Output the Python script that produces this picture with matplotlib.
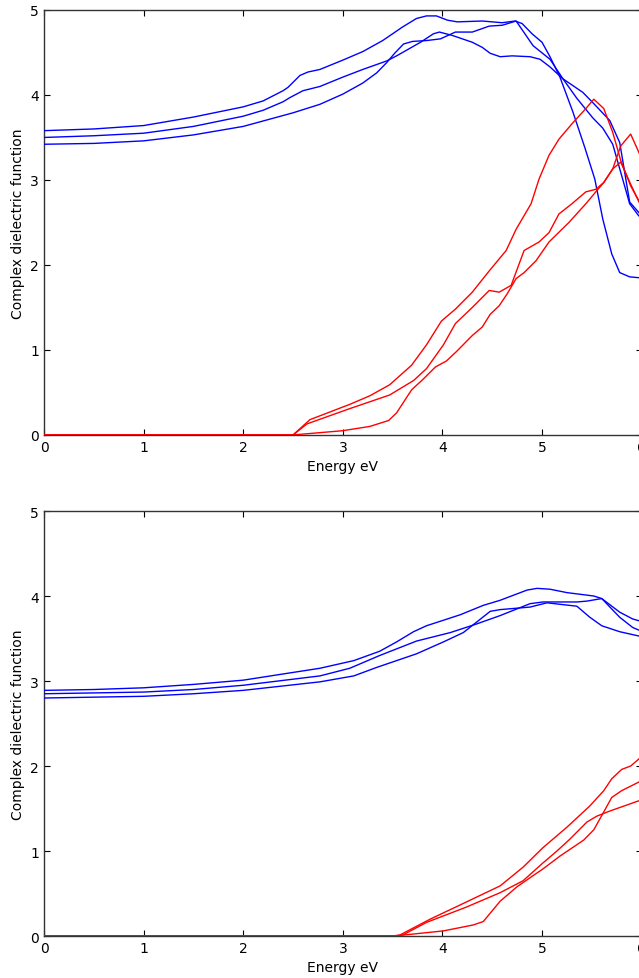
import matplotlib
matplotlib.use("Agg")
import matplotlib.pyplot as plt

# --- upper panel: real (blue) and imaginary (red) parts, three components ---
up_re1_e = [0, 0.5, 1.0, 1.5, 2.0, 2.2, 2.4, 2.45, 2.57, 2.65, 2.77, 3.0, 3.2, 3.4, 3.6, 3.74,
            3.84, 3.94, 4.05, 4.15, 4.4, 4.6, 4.73, 4.80, 4.90, 5.0, 5.08, 5.18, 5.31, 5.43,
            5.53, 5.61, 5.70, 5.78, 5.88, 5.97, 6.0]
up_re1_v = [3.58, 3.60, 3.64, 3.74, 3.86, 3.93, 4.05, 4.09, 4.23, 4.27, 4.30, 4.41, 4.51, 4.64,
            4.80, 4.90, 4.93, 4.93, 4.88, 4.86, 4.87, 4.85, 4.87, 4.84, 4.72, 4.62, 4.45, 4.21,
            3.80, 3.38, 3.01, 2.54, 2.13, 1.91, 1.86, 1.85, 1.86]

up_re2_e = [0, 0.5, 1.0, 1.5, 2.0, 2.2, 2.4, 2.47, 2.6, 2.77, 3.0, 3.2, 3.44, 3.54, 3.78, 3.91,
            3.97, 4.10, 4.30, 4.40, 4.48, 4.58, 4.70, 4.88, 4.98, 5.08, 5.21, 5.41, 5.51, 5.68,
            5.78, 5.88, 5.97, 6.0]
up_re2_v = [3.50, 3.52, 3.55, 3.63, 3.75, 3.82, 3.92, 3.97, 4.05, 4.10, 4.21, 4.30, 4.40, 4.46,
            4.62, 4.72, 4.74, 4.70, 4.62, 4.56, 4.49, 4.45, 4.46, 4.45, 4.42, 4.33, 4.19, 4.03,
            3.91, 3.70, 3.44, 2.74, 2.62, 2.58]

up_re3_e = [0, 0.5, 1.0, 1.5, 2.0, 2.5, 2.77, 3.0, 3.2, 3.34, 3.44, 3.52, 3.61, 3.70, 3.84,
            3.98, 4.13, 4.30, 4.47, 4.60, 4.74, 4.91, 5.08, 5.21, 5.35, 5.51, 5.61, 5.71, 5.88,
            5.97, 6.0]
up_re3_v = [3.42, 3.43, 3.46, 3.53, 3.63, 3.79, 3.89, 4.01, 4.14, 4.26, 4.38, 4.49, 4.60, 4.63,
            4.64, 4.66, 4.74, 4.74, 4.81, 4.82, 4.87, 4.58, 4.42, 4.19, 3.96, 3.73, 3.61, 3.42,
            2.72, 2.58, 2.55]

up_im1_e = [0, 2.5, 2.67, 3.07, 3.27, 3.47, 3.69, 3.84, 3.99, 4.13, 4.30, 4.47, 4.64, 4.74,
            4.89, 4.97, 5.07, 5.17, 5.30, 5.44, 5.52, 5.62, 5.71, 5.79, 5.89, 5.97, 6.0]
up_im1_v = [0, 0, 0.18, 0.36, 0.46, 0.59, 0.82, 1.06, 1.34, 1.48, 1.68, 1.93, 2.17, 2.42, 2.72,
            3.01, 3.29, 3.48, 3.66, 3.84, 3.95, 3.84, 3.56, 3.23, 2.93, 2.76, 2.70]

up_im2_e = [0, 2.5, 2.64, 3.07, 3.47, 3.71, 3.84, 4.01, 4.13, 4.30, 4.47, 4.57, 4.69, 4.82,
            4.97, 5.07, 5.17, 5.30, 5.44, 5.54, 5.62, 5.71, 5.79, 5.89, 5.97, 6.0]
up_im2_v = [0, 0, 0.13, 0.31, 0.47, 0.64, 0.78, 1.06, 1.31, 1.50, 1.70, 1.68, 1.76, 2.17, 2.27,
            2.38, 2.60, 2.72, 2.86, 2.89, 2.97, 3.13, 3.21, 2.95, 2.75, 2.68]

up_im3_e = [0, 2.5, 3.0, 3.27, 3.46, 3.54, 3.69, 3.81, 3.93, 4.04, 4.14, 4.30, 4.40, 4.48,
            4.57, 4.65, 4.74, 4.82, 4.94, 5.07, 5.27, 5.44, 5.54, 5.62, 5.71, 5.79, 5.89, 5.97,
            6.0]
up_im3_v = [0, 0, 0.05, 0.10, 0.17, 0.26, 0.53, 0.66, 0.80, 0.87, 0.98, 1.17, 1.27, 1.42, 1.52,
            1.66, 1.84, 1.91, 2.05, 2.27, 2.50, 2.72, 2.86, 2.97, 3.13, 3.40, 3.54, 3.33, 3.25]

# --- lower panel ---
lo_re1_e = [0, 0.5, 1.0, 1.5, 2.0, 2.77, 3.11, 3.37, 3.54, 3.71, 3.84, 4.18, 4.41, 4.58, 4.85,
            4.95, 5.08, 5.25, 5.52, 5.60, 5.78, 5.91, 5.97, 6.0]
lo_re1_v = [2.89, 2.90, 2.92, 2.96, 3.01, 3.15, 3.24, 3.35, 3.46, 3.58, 3.65, 3.78, 3.89, 3.95,
            4.07, 4.09, 4.08, 4.04, 4.00, 3.97, 3.81, 3.73, 3.71, 3.70]

lo_re2_e = [0, 0.5, 1.0, 1.5, 2.0, 2.77, 3.07, 3.37, 3.74, 4.08, 4.34, 4.58, 4.88, 5.01, 5.14,
            5.35, 5.45, 5.60, 5.78, 5.91, 5.97, 6.0]
lo_re2_v = [2.85, 2.86, 2.87, 2.90, 2.95, 3.06, 3.15, 3.30, 3.47, 3.57, 3.67, 3.77, 3.91, 3.93,
            3.93, 3.93, 3.94, 3.97, 3.75, 3.63, 3.60, 3.59]

lo_re3_e = [0, 0.5, 1.0, 1.5, 2.0, 2.77, 3.11, 3.34, 3.74, 4.01, 4.21, 4.34, 4.48, 4.58, 4.88,
            5.05, 5.35, 5.48, 5.60, 5.78, 5.97, 6.0]
lo_re3_v = [2.80, 2.81, 2.82, 2.85, 2.89, 2.99, 3.06, 3.16, 3.32, 3.46, 3.57, 3.69, 3.82, 3.84,
            3.87, 3.92, 3.88, 3.75, 3.65, 3.58, 3.53, 3.52]

lo_im1_e = [0, 3.5, 3.57, 3.88, 4.24, 4.58, 4.81, 5.01, 5.25, 5.48, 5.62, 5.70, 5.80, 5.89,
            5.97, 6.0]
lo_im1_v = [0, 0, 0.01, 0.20, 0.40, 0.59, 0.81, 1.04, 1.28, 1.53, 1.71, 1.85, 1.96, 2.00, 2.08,
            2.12]

lo_im2_e = [0, 3.5, 3.6, 3.84, 4.24, 4.58, 4.81, 5.0, 5.15, 5.28, 5.45, 5.55, 5.68, 5.97, 6.0]
lo_im2_v = [0, 0, 0.01, 0.16, 0.34, 0.51, 0.65, 0.85, 1.00, 1.14, 1.34, 1.41, 1.47, 1.59, 1.60]

lo_im3_e = [0, 3.5, 3.6, 4.01, 4.31, 4.41, 4.58, 4.75, 4.91, 5.01, 5.18, 5.42, 5.52, 5.62,
            5.70, 5.80, 5.97, 6.0]
lo_im3_v = [0, 0, 0.01, 0.06, 0.13, 0.17, 0.41, 0.58, 0.71, 0.79, 0.94, 1.13, 1.25, 1.46, 1.63,
            1.71, 1.81, 1.83]

x_ticks = [0, 1, 2, 3, 4, 5, 6]
y_ticks = [0, 1, 2, 3, 4, 5]

plt.rcParams['font.family'] = 'DejaVu Sans'
plt.rcParams['font.size'] = 10

fig = plt.figure(figsize=(6.39, 9.79), dpi=100)
ax_top = fig.add_axes([0.0689, 0.5547, 0.9352, 0.4341])
ax_bot = fig.add_axes([0.0689, 0.0429, 0.9352, 0.4341])

panels = [
    (ax_top, [(up_re1_e, up_re1_v), (up_re2_e, up_re2_v), (up_re3_e, up_re3_v)],
             [(up_im1_e, up_im1_v), (up_im2_e, up_im2_v), (up_im3_e, up_im3_v)]),
    (ax_bot, [(lo_re1_e, lo_re1_v), (lo_re2_e, lo_re2_v), (lo_re3_e, lo_re3_v)],
             [(lo_im1_e, lo_im1_v), (lo_im2_e, lo_im2_v), (lo_im3_e, lo_im3_v)]),
]

for ax, real_parts, imag_parts in panels:
    # curves sit above the spines so the zero stretch of the red lines tints the bottom axis
    for e, v in real_parts:
        ax.plot(e, v, color='b', linewidth=1.0, zorder=3)
    for e, v in imag_parts:
        ax.plot(e, v, color='r', linewidth=1.0, zorder=3)
    ax.set_xlim(0, 6)
    ax.set_ylim(0, 5)
    ax.set_xticks(x_ticks)
    ax.set_yticks(y_ticks)
    ax.tick_params(direction='in', top=True, right=True, length=4, width=0.8, labelsize=10)
    for sp in ax.spines.values():
        sp.set_linewidth(1.0)
        sp.set_color('#333333')
    ax.set_xlabel("Energy eV", fontsize=10, labelpad=4)
    ax.set_ylabel("Complex dielectric function", fontsize=10)

fig.savefig("out.png", dpi=100)
